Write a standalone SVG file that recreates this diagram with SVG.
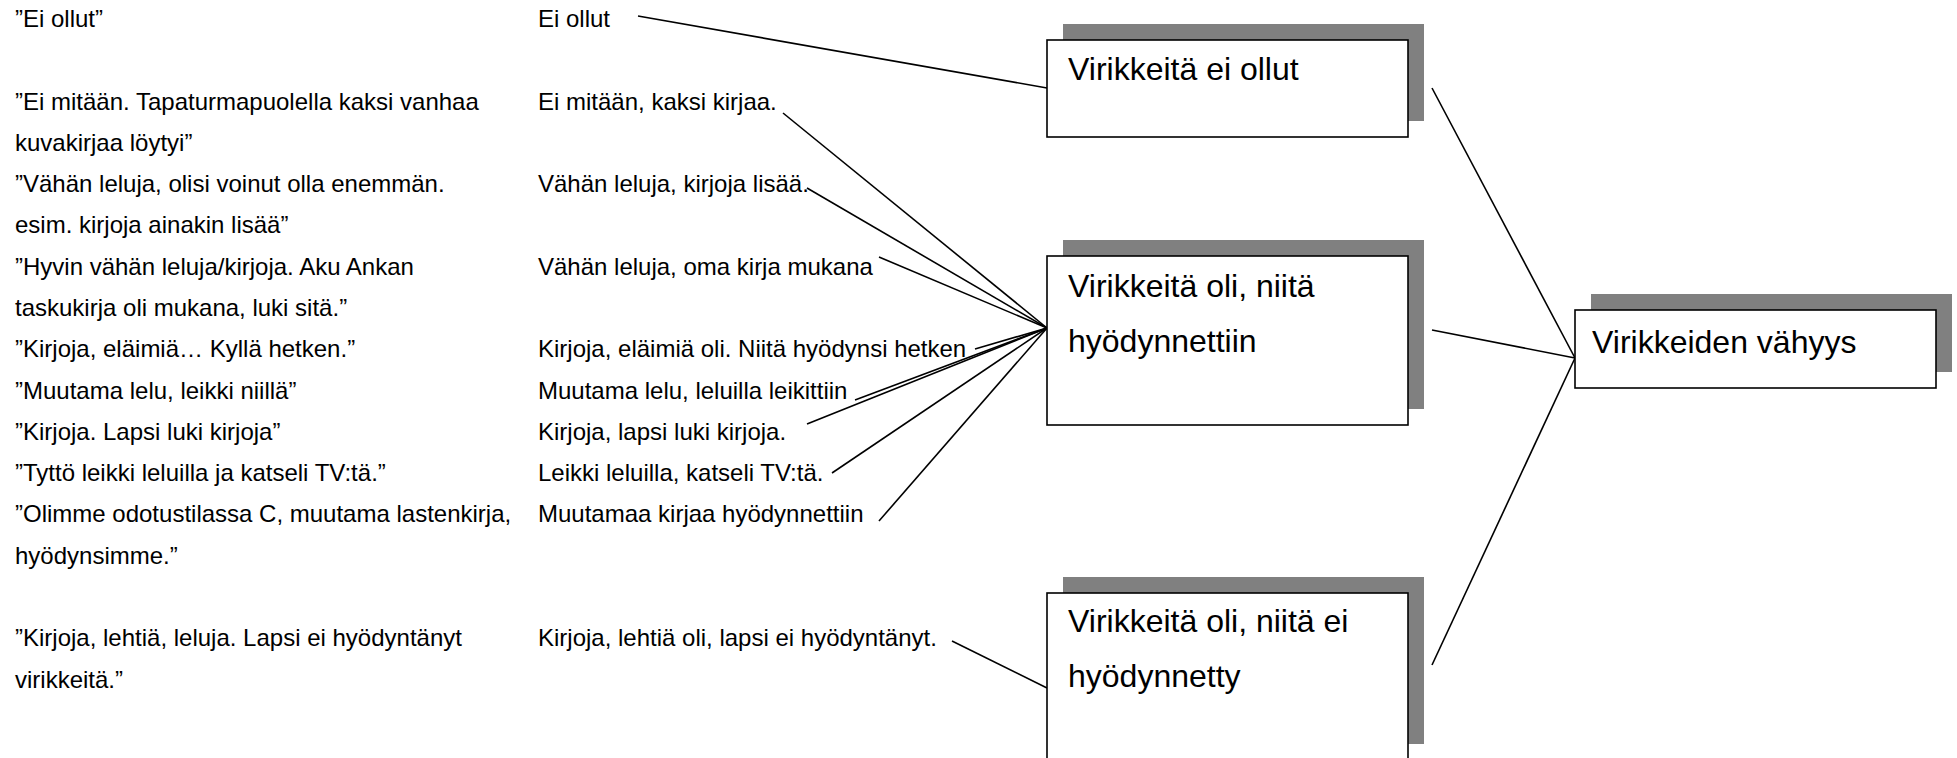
<svg xmlns="http://www.w3.org/2000/svg" width="1957" height="758" viewBox="0 0 1957 758">
<style>
  .q { font-family: "Liberation Sans", Arial, sans-serif; font-size: 24px; fill: #000; }
  .b { font-family: "Liberation Sans", Arial, sans-serif; font-size: 32px; fill: #000; }
  .shadow { fill: #808080; stroke: none; }
  .box { fill: #fff; stroke: #000; stroke-width: 1.6; }
  .conn line { stroke: #000; stroke-width: 1.6; fill: none; }
</style>
<rect width="1957" height="758" fill="#fff"/>

<g id="quotes">
  <text class="q" x="15" y="27">”Ei ollut”</text>
  <text class="q" x="15" y="110">”Ei mitään. Tapaturmapuolella kaksi vanhaa</text>
  <text class="q" x="15" y="151">kuvakirjaa löytyi”</text>
  <text class="q" x="15" y="192">”Vähän leluja, olisi voinut olla enemmän.</text>
  <text class="q" x="15" y="233">esim. kirjoja ainakin lisää”</text>
  <text class="q" x="15" y="275">”Hyvin vähän leluja/kirjoja. Aku Ankan</text>
  <text class="q" x="15" y="316">taskukirja oli mukana, luki sitä.”</text>
  <text class="q" x="15" y="357">”Kirjoja, eläimiä… Kyllä hetken.”</text>
  <text class="q" x="15" y="399">”Muutama lelu, leikki niillä”</text>
  <text class="q" x="15" y="440">”Kirjoja. Lapsi luki kirjoja”</text>
  <text class="q" x="15" y="481">”Tyttö leikki leluilla ja katseli TV:tä.”</text>
  <text class="q" x="15" y="522">”Olimme odotustilassa C, muutama lastenkirja,</text>
  <text class="q" x="15" y="564">hyödynsimme.”</text>
  <text class="q" x="15" y="646">”Kirjoja, lehtiä, leluja. Lapsi ei hyödyntänyt</text>
  <text class="q" x="15" y="688">virikkeitä.”</text>
</g>

<g id="codes">
  <text id="c1" class="q" x="538" y="27">Ei ollut</text>
  <text id="c2" class="q" x="538" y="110">Ei mitään, kaksi kirjaa.</text>
  <text id="c3" class="q" x="538" y="192">Vähän leluja, kirjoja lisää.</text>
  <text id="c4" class="q" x="538" y="275">Vähän leluja, oma kirja mukana</text>
  <text id="c5" class="q" x="538" y="357">Kirjoja, eläimiä oli. Niitä hyödynsi hetken</text>
  <text id="c6" class="q" x="538" y="399">Muutama lelu, leluilla leikittiin</text>
  <text id="c7" class="q" x="538" y="440">Kirjoja, lapsi luki kirjoja.</text>
  <text id="c8" class="q" x="538" y="481">Leikki leluilla, katseli TV:tä.</text>
  <text id="c9" class="q" x="538" y="522">Muutamaa kirjaa hyödynnettiin</text>
  <text id="c10" class="q" x="538" y="646">Kirjoja, lehtiä oli, lapsi ei hyödyntänyt.</text>
</g>

<g id="connectors" class="conn">
  <line x1="638" y1="16" x2="1047" y2="88"/>
  <line x1="783" y1="113" x2="1047" y2="328"/>
  <line x1="807" y1="188" x2="1047" y2="328"/>
  <line x1="879" y1="257" x2="1047" y2="328"/>
  <line x1="975" y1="349" x2="1047" y2="328"/>
  <line x1="855" y1="400" x2="1047" y2="328"/>
  <line x1="807" y1="424" x2="1047" y2="328"/>
  <line x1="832" y1="473" x2="1047" y2="328"/>
  <line x1="879" y1="521" x2="1047" y2="328"/>
  <line x1="952" y1="641" x2="1047" y2="688"/>
  <line x1="1432" y1="88" x2="1575" y2="358"/>
  <line x1="1432" y1="330" x2="1575" y2="358"/>
  <line x1="1432" y1="665" x2="1575" y2="358"/>
</g>

<g id="node-ei-ollut">
  <rect class="shadow" x="1063" y="24" width="361" height="97"/>
  <rect class="box" x="1047" y="40" width="361" height="97"/>
  <text class="b" x="1068" y="80">Virikkeitä ei ollut</text>
</g>

<g id="node-hyodynnettiin">
  <rect class="shadow" x="1063" y="240" width="361" height="169"/>
  <rect class="box" x="1047" y="256" width="361" height="169"/>
  <text class="b" x="1068" y="297">Virikkeitä oli, niitä</text>
  <text class="b" x="1068" y="352">hyödynnettiin</text>
</g>

<g id="node-ei-hyodynnetty">
  <rect class="shadow" x="1063" y="577" width="361" height="167"/>
  <rect class="box" x="1047" y="593" width="361" height="167"/>
  <text class="b" x="1068" y="632">Virikkeitä oli, niitä ei</text>
  <text class="b" x="1068" y="687">hyödynnetty</text>
</g>

<g id="node-vahyys">
  <rect class="shadow" x="1591" y="294" width="361" height="78"/>
  <rect class="box" x="1575" y="310" width="361" height="78"/>
  <text class="b" x="1592" y="353">Virikkeiden vähyys</text>
</g>
</svg>
